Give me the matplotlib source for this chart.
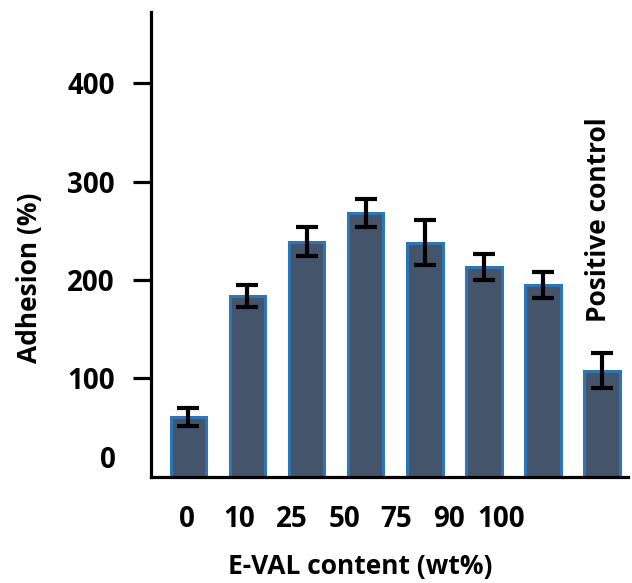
import matplotlib
matplotlib.use("Agg")
import matplotlib.pyplot as plt
import numpy as np

# data
groups = ['0', '10', '25', '50', '75', '90', '100', 'Positive control']
adhesion = [61, 184, 239, 268, 238, 213, 195, 108]
adhesion_err = [9, 11, 15, 14, 23, 13, 13, 18]
xtick_labels = ['0', '10', '25', '50', '75', '90', '100']
yticks = [100, 200, 300, 400]

plt.rcParams['font.family'] = ['Open Sans', 'DejaVu Sans']
plt.rcParams['font.weight'] = 'bold'

fig = plt.figure(figsize=(6.32, 5.83), dpi=100)
ax = fig.add_axes([0.239, 0.182, 0.755, 0.797])

x = np.arange(len(groups))
ax.bar(x, adhesion, width=0.6, color='#44546A', edgecolor='#2E75B6', linewidth=2.2, zorder=2)
ax.errorbar(x, adhesion, yerr=adhesion_err, fmt='none', ecolor='black',
            elinewidth=3, capsize=8, capthick=3, zorder=3)

ax.set_xlim(-0.63, 7.44)
ax.set_ylim(0, 472)

# the x labels in the reference drift left of the bars
label_x = x[:len(xtick_labels)] * 0.885 - 0.02
ax.set_xticks(label_x, xtick_labels)
ax.tick_params(axis='x', length=0, pad=20, labelsize=20)

ax.set_yticks(yticks, [str(v) for v in yticks])
ax.tick_params(axis='y', length=13, width=2.3, pad=13, labelsize=20, direction='out')
ax.annotate('0', xy=(0, 0), xycoords=('axes fraction', 'data'), xytext=(-25, 12),
            textcoords='offset points', ha='right', va='center', fontsize=20, fontweight='bold')

for s in ['top', 'right']:
    ax.spines[s].set_visible(False)
for s in ['left', 'bottom']:
    ax.spines[s].set_linewidth(2.3)

ax.set_xlabel('E-VAL content (wt%)', fontsize=19, fontweight='bold')
ax.xaxis.set_label_coords(0.438, -0.163)
ax.set_ylabel('Adhesion (%)', fontsize=19, fontweight='bold')
ax.yaxis.set_label_coords(-0.226, 0.428)

ax.text(x[-1] - 0.07, 261, groups[-1], rotation=90, ha='center', va='center',
        fontsize=19, fontweight='bold')

fig.savefig('out.png', dpi=100)
